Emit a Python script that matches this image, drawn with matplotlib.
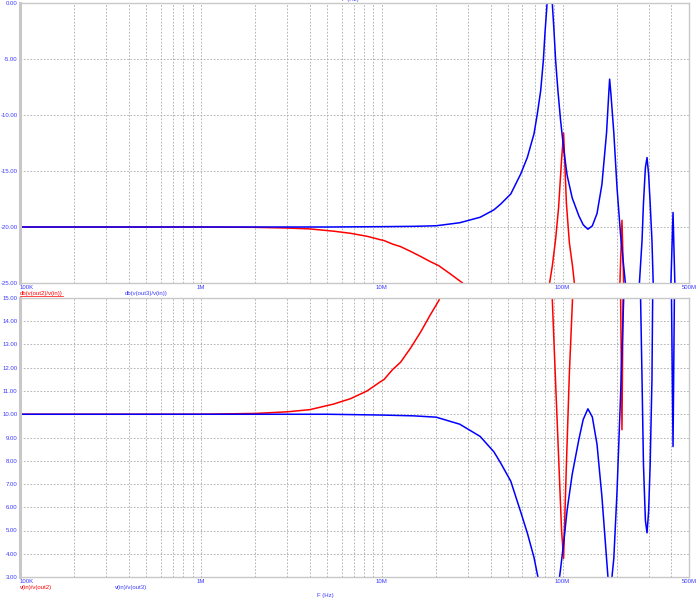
import numpy as np
import matplotlib
matplotlib.use("Agg")
import matplotlib.pyplot as plt
from matplotlib.lines import Line2D

# --- data (frequency in Hz, gain in dB) ---
freq_out3 = [1e5, 1e6, 5e6, 10e6, 15e6, 20e6, 27e6, 35e6, 41.7e6, 45.5e6,
             51.7e6, 58.7e6, 63.9e6, 69.5e6, 72.5e6, 75.7e6, 78.3e6, 79.9e6,
             81.6e6, 83.5e6, 85e6, 86.5e6, 87.7e6, 89.6e6, 91.5e6, 94.2e6,
             97.5e6, 101.7e6, 106e6, 113e6, 123e6, 130e6, 138e6, 146e6,
             155e6, 165e6, 175e6, 180e6, 182e6, 185e6, 192e6, 200e6, 209e6,
             218e6, 224e6, 240e6, 262e6, 266e6, 275e6, 280e6, 287e6, 293e6,
             299e6, 305e6, 312e6, 317e6, 320e6, 360e6, 395e6, 398e6, 408e6,
             416e6, 420e6, 460e6, 5e8]
db_out3 = [-20.0, -20.0, -20.0, -19.97, -19.94, -19.89, -19.62, -19.13,
           -18.47, -17.95, -17.05, -15.26, -13.77, -11.68, -9.9, -7.8, -5.1,
           -2.7, -0.63, 1.8, 2.6, 1.8, 0.0, -2.42, -5.1, -7.8, -10.5, -13.2,
           -15.4, -17.4, -19.0, -19.8, -20.2, -19.9, -18.8, -16.2, -11.6,
           -8.1, -6.8, -8.1, -11.6, -16.5, -20.6, -23.6, -25.5, -30.0, -26.5,
           -25.0, -21.2, -17.9, -14.7, -13.8, -15.3, -17.9, -21.2, -25.0,
           -26.5, -30.0, -26.5, -24.5, -18.7, -24.0, -26.5, -30.0, -30.0]

freq_out2 = [1e5, 1e6, 2e6, 3e6, 4e6, 5.4e6, 6.7e6, 8.3e6, 9.8e6, 10.3e6,
             11.5e6, 12.7e6, 14.5e6, 16.5e6, 18.5e6, 20.7e6, 24e6, 28e6,
             40e6, 60e6, 78e6, 83.8e6, 87.7e6, 91.5e6, 95e6, 98.7e6, 101.3e6,
             105e6, 109e6, 113.5e6, 118e6, 150e6, 200e6, 207e6, 213e6, 218e6,
             300e6, 5e8]
db_out2 = [-20.0, -20.0, -20.03, -20.09, -20.17, -20.37, -20.56, -20.83,
           -21.13, -21.21, -21.53, -21.75, -22.19, -22.65, -23.08, -23.46,
           -24.2, -25.0, -28.0, -33.0, -30.0, -25.5, -23.5, -21.1, -18.3,
           -14.0, -11.6, -17.9, -21.4, -23.5, -26.0, -35.0, -30.0, -25.5,
           -19.4, -25.5, -35.0, -40.0]

xtick_vals = [1e5, 1e6, 1e7, 1e8, 5e8]
xtick_labels = ["100K", "1M", "10M", "100M", "500M"]
db_ticks = [-25, -20, -15, -10, -5, 0]
ratio_ticks = list(range(3, 16))

RED = "#ff0000"
BLUE = "#0000ff"
TXT = "#3a3aff"
FRAME = "#c8c8c8"
GRID = "#a8a8a8"
FS = 4.3

plt.rcParams["font.family"] = ["Liberation Sans", "DejaVu Sans"]

W, H = 700, 600
fig = plt.figure(figsize=(7, 6), dpi=100)
fig.patch.set_facecolor("white")


def px_axes(x0, y0, x1, y1):
    return fig.add_axes([x0 / W, 1 - y1 / H, (x1 - x0) / W, (y1 - y0) / H])


ax1 = px_axes(20, 3, 689, 283)
ax2 = px_axes(20, 298, 689, 577)

minor = [m * 10.0 ** d for d in range(5, 9) for m in range(2, 10) if m * 10.0 ** d < 5e8]

for ax in (ax1, ax2):
    ax.set_xscale("log")
    ax.set_xlim(1e5, 5e8)
    ax.set_xticks(xtick_vals)
    ax.set_xticklabels(xtick_labels)
    ax.set_xticks(minor, minor=True)
    ax.xaxis.set_minor_formatter(plt.NullFormatter())
    ax.tick_params(axis="both", which="both", length=0, labelsize=FS,
                   labelcolor=TXT)
    ax.tick_params(axis="x", pad=1.2)
    ax.tick_params(axis="y", pad=1.8)
    ax.grid(True, which="both", axis="x", color=GRID, linestyle=(0, (2, 2)),
            linewidth=0.6)
    ax.grid(True, which="major", axis="y", color=GRID, linestyle=(0, (2, 2)),
            linewidth=0.6)
    for s in ax.spines.values():
        s.set_color(FRAME)
        s.set_linewidth(1.0)
    ax.spines["left"].set_linewidth(2.2)
    ax.xaxis.get_majorticklabels()[0].set_ha("left")

# top: gain in dB
ax1.plot(freq_out2, db_out2, color=RED, linewidth=1.1)
ax1.plot(freq_out3, db_out3, color=BLUE, linewidth=1.1)
ax1.set_ylim(-25, 0)
ax1.set_yticks(db_ticks)
ax1.set_yticklabels([f"{v:.2f}" for v in db_ticks])

# bottom: v(in)/v(out) ratio
ratio_out2 = [10 ** (-v / 20) for v in db_out2]
ratio_out3 = [10 ** (-v / 20) for v in db_out3]
ax2.plot(freq_out2, ratio_out2, color=RED, linewidth=1.1)
ax2.plot(freq_out3, ratio_out3, color=BLUE, linewidth=1.1)
ax2.set_ylim(3, 15)
ax2.set_yticks(ratio_ticks)
ax2.set_yticklabels([f"{v:.2f}" for v in ratio_ticks])

# trace names
t_red = fig.text(20 / W, 1 - 293 / H, "db(v(out2)/v(in))", color=RED,
                 fontsize=FS, va="center")
fig.text(125 / W, 1 - 293 / H, "db(v(out3)/v(in))", color=TXT,
         fontsize=FS, va="center")
fig.text(20 / W, 1 - 587 / H, "v(in)/v(out2)", color=RED, fontsize=FS,
         va="center")
fig.text(115 / W, 1 - 587 / H, "v(in)/v(out3)", color=TXT, fontsize=FS,
         va="center")
fig.text(325 / W, 1 - 595 / H, "F (Hz)", color=TXT, fontsize=FS,
         va="center", ha="center")
fig.text(350 / W, 1 - 0 / H, "F (Hz)", color=TXT, fontsize=FS,
         va="center", ha="center")

# underline the selected trace name
fig.canvas.draw()
bb = t_red.get_window_extent()
fig.add_artist(Line2D([bb.x0 / W, bb.x1 / W], [(bb.y0 - 0.5) / H] * 2,
                      color=RED, linewidth=0.5))

fig.savefig("out.png", dpi=100, facecolor="white")
